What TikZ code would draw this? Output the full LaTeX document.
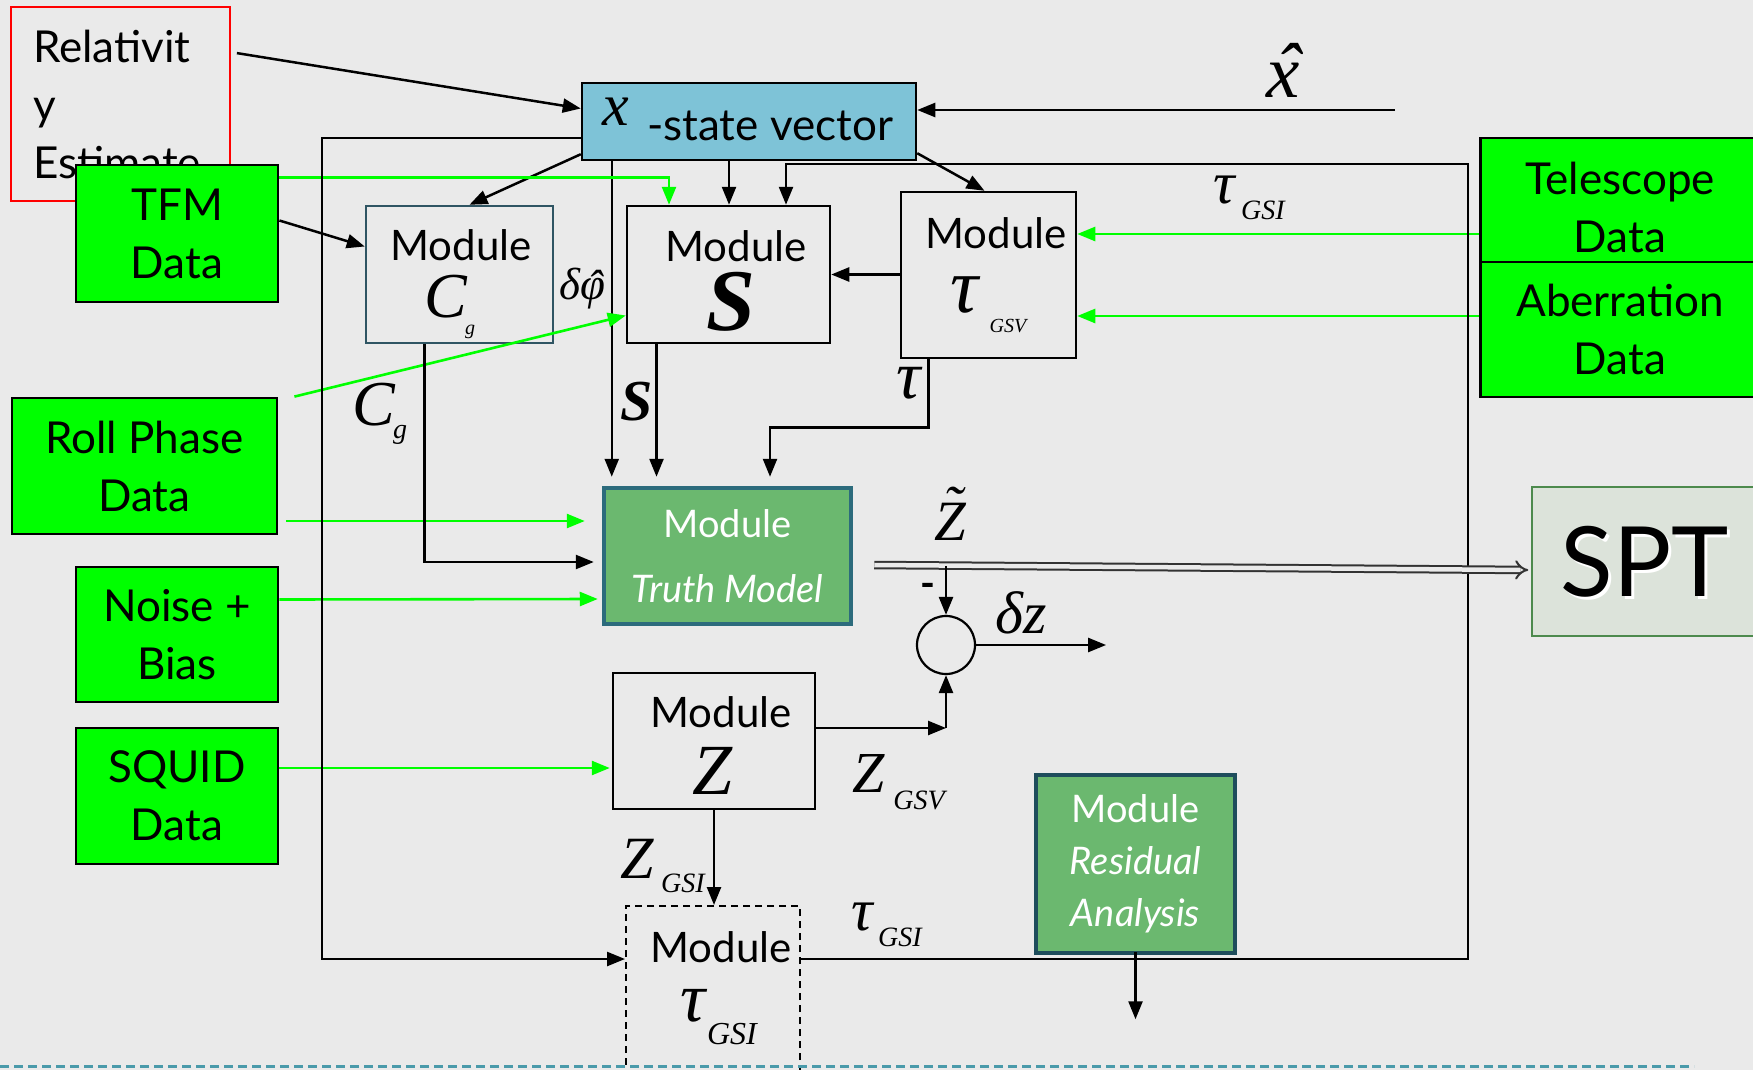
\documentclass[tikz,border=0pt]{standalone}
\usepackage{fontspec}
\setmainfont{Lato}
\newfontfamily\tms{Liberation Serif}
\usetikzlibrary{arrows.meta,calc}
\definecolor{bg}{HTML}{EAEAEA}
\definecolor{gbright}{HTML}{00FF00}
\definecolor{xsblue}{HTML}{7EC3D7}
\definecolor{tmgreen}{HTML}{6BB86F}
\definecolor{tmborder}{HTML}{2C6B7C}
\definecolor{raborder}{HTML}{1E4D5C}
\definecolor{cborder}{HTML}{2F5563}
\definecolor{sptfill}{HTML}{DCE3DA}
\definecolor{sptborder}{HTML}{4D8A4D}
\definecolor{dashteal}{HTML}{4A9AAA}
\newcommand\mf[1]{\fontsize{#1}{#1}\selectfont\tms\itshape}
\newcommand\topacc[3]{\ooalign{#2\cr\hidewidth\raisebox{#3}{#1}\hidewidth\cr}}
\tikzset{
  conn/.style={line width=2.5pt, -{Triangle[length=18pt,width=14pt]}},
  gconn/.style={line width=2.6pt, draw=gbright, -{Triangle[length=18pt,width=14pt]}},
  databox/.style={draw=black, line width=2.8pt, fill=gbright, align=center, font=\fontsize{44}{58}\selectfont, inner sep=0pt},
  modbox/.style={draw=black, line width=2.5pt, inner sep=0pt},
  greenmod/.style={fill=tmgreen, line width=4.5pt, text=white, align=center, inner sep=0pt},
  modtxt/.style={font=\fontsize{42}{52}\selectfont, inner sep=0pt},
  lbl/.style={inner sep=0pt},
  dblarrow/.style={line width=2pt, draw=black!80, double=bg, double distance=4.5pt, -{Implies}},
}
\begin{document}
\begin{tikzpicture}[x=1pt,y=-1pt]
\fill[bg] (0,0) rectangle (1753,1070);
\useasboundingbox (0,0) rectangle (1753,1070);

% ---------------- boxes ----------------
\node[draw=red, line width=1.8pt, minimum width=219pt, minimum height=194pt, align=left, text width=175pt, inner sep=0pt, font=\fontsize{44}{58}\selectfont] (rel) at (120.5,104) {Relativit\\y\\Estimate};

\node[modbox, fill=xsblue, minimum width=334pt, minimum height=77pt] (xs) at (749,121.5) {};
\node[lbl, font=\mf{60}] (xsx) at (616,112) {x};
\node[modtxt, font=\fontsize{44}{52}\selectfont] (xstxt) at (770,126) {-state vector};

\node[modbox, draw=cborder, minimum width=187pt, minimum height=137pt] (modC) at (459.5,274.5) {};
\node[modtxt] (modCt) at (461,245) {Module};
\node[lbl, font=\mf{64}] (modCc) at (446,297) {C};
\node[lbl, font=\mf{20}] (modCg) at (470,332) {g};

\node[modbox, minimum width=203pt, minimum height=137pt] (modS) at (728.5,274.5) {};
\node[modtxt] (modSt) at (736,246) {Module};
\node[lbl, font=\mf{88}\bfseries] (modSs) at (731,302) {S};

\node[modbox, minimum width=175pt, minimum height=166pt] (modT) at (988.5,275) {};
\node[modtxt] (modTt) at (996,233) {Module};
\node[lbl, font=\mf{78}] (modTtau) at (964,295) {τ};
\node[lbl, font=\mf{20}] (modTsub) at (1008,326) {GSV};

\node[databox, minimum width=202pt, minimum height=137pt] (tfm) at (177,233.5) {TFM\\Data};
\node[databox, minimum width=265pt, minimum height=136pt] (roll) at (144.5,466) {Roll Phase\\Data};
\node[databox, minimum width=202pt, minimum height=135pt] (noise) at (177,634.5) {Noise +\\Bias};
\node[databox, minimum width=202pt, minimum height=136pt] (squid) at (177,796) {SQUID\\Data};
\node[databox, minimum width=279pt, minimum height=124pt] (tel) at (1620,200) {\rule{0pt}{48pt}Telescope\\Data};
\node[databox, minimum width=279pt, minimum height=135pt] (abe) at (1620,329.5) {Aberration\\Data};

\node[greenmod, draw=tmborder, minimum width=247pt, minimum height=136pt, font=\fontsize{38}{65}\selectfont] (truth) at (727.5,556) {Module\\\textit{Truth Model}};

\node[modbox, minimum width=202pt, minimum height=136pt] (modZ) at (714,741) {};
\node[modtxt] (modZt) at (721,712) {Module};
\node[lbl, font=\mf{72}] (modZz) at (713,771) {Z};

\node[draw, dash pattern=on 7pt off 5pt, line width=2pt, minimum width=174pt, minimum height=172pt, inner sep=0pt] (modTG) at (713,992) {};
\node[modtxt] (modTGt) at (721,947) {Module};
\node[lbl, font=\mf{70}] (modTGtau) at (693,1006) {τ};
\node[lbl, font=\mf{32}] (modTGsub) at (732,1034) {GSI};

\node[greenmod, draw=raborder, minimum width=199pt, minimum height=178pt, font=\fontsize{38}{52}\selectfont] (resid) at (1135.5,864) {Module\\\textit{Residual}\\\textit{Analysis}};

\node[draw=sptborder, fill=sptfill, line width=1.5pt, minimum width=228pt, minimum height=149pt] (spt) at (1646,561.5) {};
\node[font=\fontsize{97}{97}\selectfont, text=white, inner sep=0pt] (sptsh) at (1648,565) {SPT};
\node[font=\fontsize{97}{97}\selectfont, inner sep=0pt] (spttxt) at (1645,562) {SPT};

\node[draw, circle, line width=2.2pt, minimum size=58pt, inner sep=0pt] (sum) at (946,645) {};

% ---------------- connectors ----------------
\draw[conn] ($(rel.north east)+(6,47)$) -- ($(xs.west)+(0,-13)$);
\coordinate (xhatend) at (1395,110);
\draw[conn] (xhatend) -- (xs.east |- xhatend);
\draw[conn] ($(tfm.east)+(0,-13)$) -- ($(modC.west)+(0,-28)$);
\draw[conn] ($(xs.south west)+(0,-7)$) -- ($(modC.north)+(10,0)$);
\coordinate (xsA) at ($(xs.south west)+(31,0)$);
\draw[conn] (xsA) -- ($(xsA |- truth.north)+(0,-9)$);
\coordinate (xsB) at ($(xs.south)+(-20,0)$);
\draw[conn] (xsB) -- (xsB |- modS.north);
\draw[conn] ($(xs.south east)+(0,-8)$) -- ($(modT.north)+(-4,0)$);
\draw[gconn] ($(tfm.north east)+(0,14)$) -| ($(modS.north)+(-59.5,0)$);
\draw[conn] (modT.west |- modS.east) -- (modS.east);
\coordinate (tA) at ($(modT.east)+(0,-41)$);
\coordinate (tB) at ($(modT.east)+(0,41)$);
\draw[gconn] (tel.west |- tA) -- (tA);
\draw[gconn] (abe.west |- tB) -- (tB);
\draw[gconn] ($(roll.north east)+(16,0)$) -- ($(modS.west)+(0,41)$);
\draw[gconn] ($(roll.east)+(8,55)$) -- ($(truth.west)+(-17,-35)$);
\draw[conn] ($(modC.south)+(-35,0)$) |- ($(truth.west)+(-8,6)$);
\draw[gconn] ($(noise.east)+(0,-35)$) -- ($(truth.west)+(-4,43)$);
\draw[gconn] ($(squid.east)+(0,-28)$) -- ($(modZ.west)+(-2,27)$);
\coordinate (sA) at ($(modS.south)+(-72,0)$);
\draw[conn] (sA) -- ($(sA |- truth.north)+(0,-9)$);
\draw[conn] ($(modT.south)+(-60,0)$) -- ++(0,68) -| ($(truth.north)+(42.5,-9)$);
% loops
\draw[conn] ($(xs.west)+(0,16.5)$) -- ++(-259,0) |- ($(modTG.west)+(0,-33)$);
\draw[conn] ($(modTG.east)+(0,-33)$) -- ++(667,0) |- ($(modS.north)+(57.5,-41)$) -- ($(modS.north)+(57.5,0)$);
% outputs
\draw[dblarrow] ($(truth.east)+(21,9)$) -- ($(spt.west)+(-3,8.5)$);
\coordinate (ztop) at ($(sum.north)+(0,-49)$);
\draw[conn] (ztop) -- (sum.north);
\draw[conn] (sum.east) -- ++(130,0);
\coordinate (zc) at ($(sum.south |- modZ.east)+(0,-13)$);
\draw[conn] ($(modZ.east)+(0,-13)$) -- (zc);
\draw[conn] (zc) -- (sum.south);
\draw[conn] (modZ.south) -- (modZ.south |- modTG.north);
\draw[conn] ($(resid.south)+(0,-3)$) -- ++(0,67);

% bottom dashed line
\coordinate (dl) at (0,1066);
\coordinate (dr) at (1694,1066);
\draw[dashteal, line width=3pt, dash pattern=on 9pt off 5pt] (dl) -- (dr);

% ---------------- labels ----------------
\node[lbl, font=\mf{75}] (xhat) at (1283,80) {\topacc{\kern.12em ˆ}{x}{2pt}};
\node[lbl, font=\mf{60}] (tauA) at (1224,190) {τ};
\node[lbl, font=\mf{28}] (tauAs) at (1263,210) {GSI};
\node[lbl, font=\mf{45}] (dphi) at (582,285) {δ\topacc{\kern.1em ˆ}{φ}{-2pt}};
\node[lbl, font=\mf{64}] (cgC) at (374,405) {C};
\node[lbl, font=\mf{28}] (cgg) at (400,435) {g};
\node[lbl, font=\mf{58}\bfseries] (slbl) at (637,402) {S};
\node[lbl, font=\mf{68}] (taulbl) at (909,383) {τ};
\node[lbl, font=\mf{57}] (ztil) at (950,522) {\topacc{\kern.1em ˜}{Z}{15pt}};
\node[lbl, font=\fontsize{40}{40}\selectfont\bfseries] (minus) at (928,590) {-};
\node[lbl, font=\mf{60}] (dz) at (1021,613) {δz};
\node[lbl, font=\mf{58}] (zgsv) at (869,774) {Z};
\node[lbl, font=\mf{28}] (zgsvs) at (919,800) {GSV};
\node[lbl, font=\mf{60}] (zgsi) at (637,859) {Z};
\node[lbl, font=\mf{28}] (zgsis) at (683,883) {GSI};
\node[lbl, font=\mf{60}] (taub) at (862,917) {τ};
\node[lbl, font=\mf{28}] (taubs) at (900,937) {GSI};
\end{tikzpicture}
\end{document}
